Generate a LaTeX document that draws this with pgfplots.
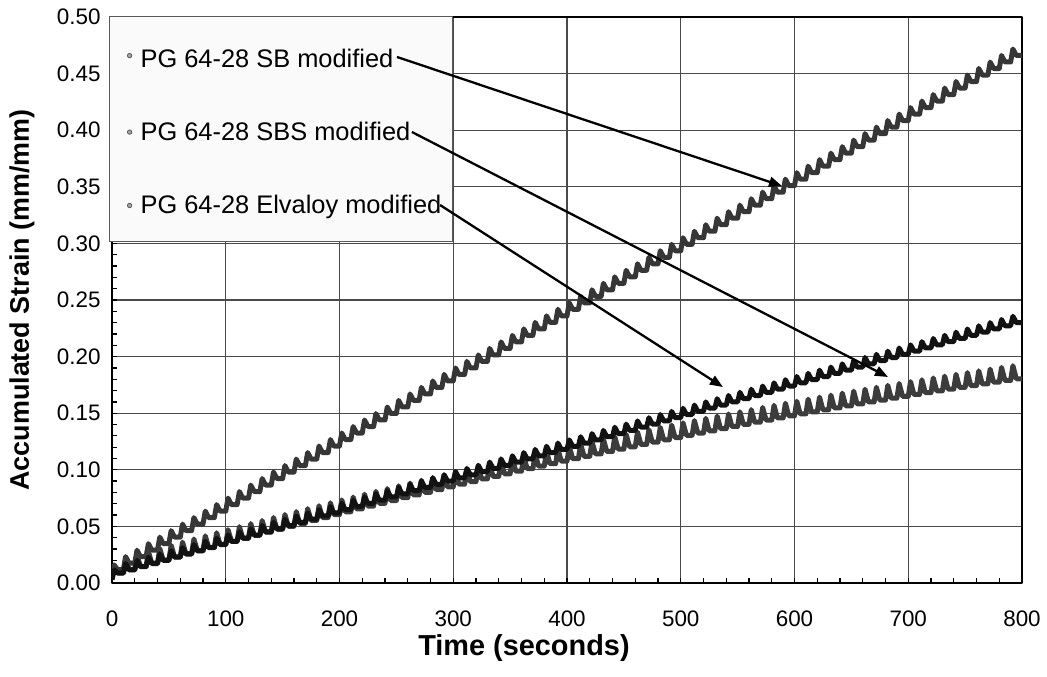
\documentclass[border=0pt]{standalone}
\usepackage{pgfplots}
\pgfplotsset{compat=1.18}
\usepackage{fontspec}
\setmainfont{Liberation Sans}
\usetikzlibrary{arrows.meta}

\definecolor{sbcol}{HTML}{363636}
\definecolor{sbscol}{HTML}{3C3C3C}
\definecolor{elvcol}{HTML}{121212}
\definecolor{gridcol}{HTML}{4A4A4A}
\definecolor{legfill}{HTML}{FAFAFA}

\begin{document}
\begin{tikzpicture}
% page frame around the axis box
\path[use as bounding box] (-112bp,-94bp) rectangle (935bp,583bp);
\begin{axis}[
  scale only axis,
  width=910bp, height=566bp,
  xmin=0, xmax=800, ymin=0, ymax=0.5,
  xtick={0,100,...,800},
  ytick={0,0.05,...,0.5},
  minor x tick num=4,
  minor y tick num=4,
  tick align=inside,
  xtick pos=bottom, ytick pos=left,
  major tick length=5bp, minor tick length=5bp,
  every tick/.style={black, line width=1.3bp},
  grid=major,
  major grid style={draw=gridcol, line width=1.3bp},
  axis line style={black, line width=2.6bp},
  /pgf/number format/assume math mode=true,
  tick label style={font=\fontsize{22.5}{27}\selectfont},
  yticklabel style={/pgf/number format/.cd, fixed, fixed zerofill, precision=2, /tikz/.cd, xshift=-8bp},
  xticklabel style={inner ysep=1bp, yshift=-26.5bp},
  xlabel={\textbf{Time (seconds)}},
  ylabel={\textbf{Accumulated Strain (mm/mm)}},
  xlabel style={font=\fontsize{29}{35}\selectfont, inner sep=1bp, at={(axis description cs:0.4527,-0.1148)}, anchor=center},
  ylabel style={font=\fontsize{27}{32}\selectfont, at={(axis description cs:-0.0989,0.5)}, anchor=center},
  legend cell align=left,
  legend image code/.code={%
    \path[draw=none, fill=none] (0bp,0bp) -- (20bp,0bp);
    \draw[black!65, line width=0.8bp, fill=black!35] (11bp,0bp) circle (2.2bp);},
  legend style={at={(axis description cs:-0.0033,1.0018)}, anchor=north west,
    draw=black!65, fill=legfill, line width=1.2bp,
    font=\fontsize{25.5}{30}\selectfont,
    inner xsep=9bp, inner ysep=24bp, row sep=49.5bp},
  line join=round,
]
% PG 64-28 SB modified
\addplot[sbcol, line width=5bp] coordinates {
(0,0.004)(2,0.0155)(5,0.01175)
(10,0.01175)(12,0.02325)(15,0.0175)
(20,0.0175)(22,0.029)(25,0.02325)
(30,0.02325)(32,0.03475)(35,0.029)
(40,0.029)(42,0.0405)(45,0.03475)
(50,0.03475)(52,0.04625)(55,0.0405)
(60,0.0405)(62,0.052)(65,0.04625)
(70,0.04625)(72,0.05775)(75,0.052)
(80,0.052)(82,0.0635)(85,0.05775)
(90,0.05775)(92,0.06925)(95,0.0635)
(100,0.0635)(102,0.075)(105,0.06925)
(110,0.06925)(112,0.08075)(115,0.075)
(120,0.075)(122,0.0865)(125,0.08075)
(130,0.08075)(132,0.09225)(135,0.0865)
(140,0.0865)(142,0.098)(145,0.09225)
(150,0.09225)(152,0.10375)(155,0.098)
(160,0.098)(162,0.1095)(165,0.10375)
(170,0.10375)(172,0.11525)(175,0.1095)
(180,0.1095)(182,0.121)(185,0.11525)
(190,0.11525)(192,0.12675)(195,0.121)
(200,0.121)(202,0.1325)(205,0.12675)
(210,0.12675)(212,0.13825)(215,0.1325)
(220,0.1325)(222,0.144)(225,0.13825)
(230,0.13825)(232,0.14975)(235,0.144)
(240,0.144)(242,0.1555)(245,0.14975)
(250,0.14975)(252,0.16125)(255,0.1555)
(260,0.1555)(262,0.167)(265,0.16125)
(270,0.16125)(272,0.17275)(275,0.167)
(280,0.167)(282,0.1785)(285,0.17275)
(290,0.17275)(292,0.18425)(295,0.1785)
(300,0.1785)(302,0.19)(305,0.18425)
(310,0.18425)(312,0.19575)(315,0.19)
(320,0.19)(322,0.2015)(325,0.19575)
(330,0.19575)(332,0.20725)(335,0.2015)
(340,0.2015)(342,0.213)(345,0.20725)
(350,0.20725)(352,0.21875)(355,0.213)
(360,0.213)(362,0.2245)(365,0.21875)
(370,0.21875)(372,0.23025)(375,0.2245)
(380,0.2245)(382,0.236)(385,0.23025)
(390,0.23025)(392,0.24175)(395,0.236)
(400,0.236)(402,0.2475)(405,0.24175)
(410,0.24175)(412,0.25325)(415,0.2475)
(420,0.2475)(422,0.259)(425,0.25325)
(430,0.25325)(432,0.26475)(435,0.259)
(440,0.259)(442,0.2705)(445,0.26475)
(450,0.26475)(452,0.27625)(455,0.2705)
(460,0.2705)(462,0.282)(465,0.27625)
(470,0.27625)(472,0.28775)(475,0.282)
(480,0.282)(482,0.2935)(485,0.28775)
(490,0.28775)(492,0.29925)(495,0.2935)
(500,0.2935)(502,0.305)(505,0.29925)
(510,0.29925)(512,0.31075)(515,0.305)
(520,0.305)(522,0.3165)(525,0.31075)
(530,0.31075)(532,0.32225)(535,0.3165)
(540,0.3165)(542,0.328)(545,0.32225)
(550,0.32225)(552,0.33375)(555,0.328)
(560,0.328)(562,0.3395)(565,0.33375)
(570,0.33375)(572,0.34525)(575,0.3395)
(580,0.3395)(582,0.351)(585,0.34525)
(590,0.34525)(592,0.35675)(595,0.351)
(600,0.351)(602,0.3625)(605,0.35675)
(610,0.35675)(612,0.36825)(615,0.3625)
(620,0.3625)(622,0.374)(625,0.36825)
(630,0.36825)(632,0.37975)(635,0.374)
(640,0.374)(642,0.3855)(645,0.37975)
(650,0.37975)(652,0.39125)(655,0.3855)
(660,0.3855)(662,0.397)(665,0.39125)
(670,0.39125)(672,0.40275)(675,0.397)
(680,0.397)(682,0.4085)(685,0.40275)
(690,0.40275)(692,0.41425)(695,0.4085)
(700,0.4085)(702,0.42)(705,0.41425)
(710,0.41425)(712,0.42575)(715,0.42)
(720,0.42)(722,0.4315)(725,0.42575)
(730,0.42575)(732,0.43725)(735,0.4315)
(740,0.4315)(742,0.443)(745,0.43725)
(750,0.43725)(752,0.44875)(755,0.443)
(760,0.443)(762,0.4545)(765,0.44875)
(770,0.44875)(772,0.46025)(775,0.4545)
(780,0.4545)(782,0.466)(785,0.46025)
(790,0.46025)(792,0.47175)(795,0.466)
(800,0.466)
};
\addlegendentry{\rule{0pt}{24.6bp}PG 64-28 SB modified}
% PG 64-28 SBS modified
\addplot[sbscol, line width=5bp] coordinates {
(0,0.003)(2,0.016)(5,0.00889)
(10,0.00889)(12,0.02189)(15,0.01176)
(20,0.01176)(22,0.02476)(25,0.01462)
(30,0.01462)(32,0.02762)(35,0.01746)
(40,0.01746)(42,0.03046)(45,0.02028)
(50,0.02028)(52,0.03328)(55,0.02308)
(60,0.02308)(62,0.03608)(65,0.02586)
(70,0.02586)(72,0.03886)(75,0.02862)
(80,0.02862)(82,0.04162)(85,0.03137)
(90,0.03137)(92,0.04437)(95,0.0341)
(100,0.0341)(102,0.0471)(105,0.03681)
(110,0.03681)(112,0.04981)(115,0.0395)
(120,0.0395)(122,0.0525)(125,0.04218)
(130,0.04218)(132,0.05518)(135,0.04484)
(140,0.04484)(142,0.05784)(145,0.04748)
(150,0.04748)(152,0.06048)(155,0.0501)
(160,0.0501)(162,0.0631)(165,0.0527)
(170,0.0527)(172,0.0657)(175,0.05528)
(180,0.05528)(182,0.06828)(185,0.05785)
(190,0.05785)(192,0.07085)(195,0.0604)
(200,0.0604)(202,0.0734)(205,0.06293)
(210,0.06293)(212,0.07593)(215,0.06544)
(220,0.06544)(222,0.07844)(225,0.06794)
(230,0.06794)(232,0.08094)(235,0.07042)
(240,0.07042)(242,0.08342)(245,0.07288)
(250,0.07288)(252,0.08588)(255,0.07532)
(260,0.07532)(262,0.08832)(265,0.07774)
(270,0.07774)(272,0.09074)(275,0.08014)
(280,0.08014)(282,0.09314)(285,0.08253)
(290,0.08253)(292,0.09553)(295,0.0849)
(300,0.0849)(302,0.0979)(305,0.08725)
(310,0.08725)(312,0.10025)(315,0.08958)
(320,0.08958)(322,0.10258)(325,0.0919)
(330,0.0919)(332,0.1049)(335,0.0942)
(340,0.0942)(342,0.1072)(345,0.09648)
(350,0.09648)(352,0.10948)(355,0.09874)
(360,0.09874)(362,0.11174)(365,0.10098)
(370,0.10098)(372,0.11398)(375,0.1032)
(380,0.1032)(382,0.1162)(385,0.10541)
(390,0.10541)(392,0.11841)(395,0.1076)
(400,0.1076)(402,0.1206)(405,0.10977)
(410,0.10977)(412,0.12277)(415,0.11192)
(420,0.11192)(422,0.12492)(425,0.11406)
(430,0.11406)(432,0.12706)(435,0.11618)
(440,0.11618)(442,0.12918)(445,0.11828)
(450,0.11828)(452,0.13128)(455,0.12036)
(460,0.12036)(462,0.13336)(465,0.12242)
(470,0.12242)(472,0.13542)(475,0.12446)
(480,0.12446)(482,0.13746)(485,0.12649)
(490,0.12649)(492,0.13949)(495,0.1285)
(500,0.1285)(502,0.1415)(505,0.13049)
(510,0.13049)(512,0.14349)(515,0.13246)
(520,0.13246)(522,0.14546)(525,0.13442)
(530,0.13442)(532,0.14742)(535,0.13636)
(540,0.13636)(542,0.14936)(545,0.13828)
(550,0.13828)(552,0.15128)(555,0.14018)
(560,0.14018)(562,0.15318)(565,0.14206)
(570,0.14206)(572,0.15506)(575,0.14392)
(580,0.14392)(582,0.15692)(585,0.14577)
(590,0.14577)(592,0.15877)(595,0.1476)
(600,0.1476)(602,0.1606)(605,0.14941)
(610,0.14941)(612,0.16241)(615,0.1512)
(620,0.1512)(622,0.1642)(625,0.15298)
(630,0.15298)(632,0.16598)(635,0.15474)
(640,0.15474)(642,0.16774)(645,0.15648)
(650,0.15648)(652,0.16948)(655,0.1582)
(660,0.1582)(662,0.1712)(665,0.1599)
(670,0.1599)(672,0.1729)(675,0.16158)
(680,0.16158)(682,0.17458)(685,0.16325)
(690,0.16325)(692,0.17625)(695,0.1649)
(700,0.1649)(702,0.1779)(705,0.16653)
(710,0.16653)(712,0.17953)(715,0.16814)
(720,0.16814)(722,0.18114)(725,0.16974)
(730,0.16974)(732,0.18274)(735,0.17132)
(740,0.17132)(742,0.18432)(745,0.17288)
(750,0.17288)(752,0.18588)(755,0.17442)
(760,0.17442)(762,0.18742)(765,0.17594)
(770,0.17594)(772,0.18894)(775,0.17744)
(780,0.17744)(782,0.19044)(785,0.17893)
(790,0.17893)(792,0.19193)(795,0.1804)
(800,0.1804)
};
\addlegendentry{PG 64-28 SBS modified}
% PG 64-28 Elvaloy modified
\addplot[elvcol, line width=5bp] coordinates {
(0,0.003)(2,0.0116)(5,0.0088)
(10,0.0088)(12,0.0172)(15,0.0116)
(20,0.0116)(22,0.02)(25,0.0144)
(30,0.0144)(32,0.0228)(35,0.0172)
(40,0.0172)(42,0.0256)(45,0.02)
(50,0.02)(52,0.0284)(55,0.0228)
(60,0.0228)(62,0.0312)(65,0.0256)
(70,0.0256)(72,0.034)(75,0.0284)
(80,0.0284)(82,0.0368)(85,0.0312)
(90,0.0312)(92,0.0396)(95,0.034)
(100,0.034)(102,0.0424)(105,0.0368)
(110,0.0368)(112,0.0452)(115,0.0396)
(120,0.0396)(122,0.048)(125,0.0424)
(130,0.0424)(132,0.0508)(135,0.0452)
(140,0.0452)(142,0.0536)(145,0.048)
(150,0.048)(152,0.0564)(155,0.0508)
(160,0.0508)(162,0.0592)(165,0.0536)
(170,0.0536)(172,0.062)(175,0.0564)
(180,0.0564)(182,0.0648)(185,0.0592)
(190,0.0592)(192,0.0676)(195,0.062)
(200,0.062)(202,0.0704)(205,0.0648)
(210,0.0648)(212,0.0732)(215,0.0676)
(220,0.0676)(222,0.076)(225,0.0704)
(230,0.0704)(232,0.0788)(235,0.0732)
(240,0.0732)(242,0.0816)(245,0.076)
(250,0.076)(252,0.0844)(255,0.0788)
(260,0.0788)(262,0.0872)(265,0.0816)
(270,0.0816)(272,0.09)(275,0.0844)
(280,0.0844)(282,0.0928)(285,0.0872)
(290,0.0872)(292,0.0956)(295,0.09)
(300,0.09)(302,0.0984)(305,0.0928)
(310,0.0928)(312,0.1012)(315,0.0956)
(320,0.0956)(322,0.104)(325,0.0984)
(330,0.0984)(332,0.1068)(335,0.1012)
(340,0.1012)(342,0.1096)(345,0.104)
(350,0.104)(352,0.1124)(355,0.1068)
(360,0.1068)(362,0.1152)(365,0.1096)
(370,0.1096)(372,0.118)(375,0.1124)
(380,0.1124)(382,0.1208)(385,0.1152)
(390,0.1152)(392,0.1236)(395,0.118)
(400,0.118)(402,0.1264)(405,0.1208)
(410,0.1208)(412,0.1292)(415,0.1236)
(420,0.1236)(422,0.132)(425,0.1264)
(430,0.1264)(432,0.1348)(435,0.1292)
(440,0.1292)(442,0.1376)(445,0.132)
(450,0.132)(452,0.1404)(455,0.1348)
(460,0.1348)(462,0.1432)(465,0.1376)
(470,0.1376)(472,0.146)(475,0.1404)
(480,0.1404)(482,0.1488)(485,0.1432)
(490,0.1432)(492,0.1516)(495,0.146)
(500,0.146)(502,0.1544)(505,0.1488)
(510,0.1488)(512,0.1572)(515,0.1516)
(520,0.1516)(522,0.16)(525,0.1544)
(530,0.1544)(532,0.1628)(535,0.1572)
(540,0.1572)(542,0.1656)(545,0.16)
(550,0.16)(552,0.1684)(555,0.1628)
(560,0.1628)(562,0.1712)(565,0.1656)
(570,0.1656)(572,0.174)(575,0.1684)
(580,0.1684)(582,0.1768)(585,0.1712)
(590,0.1712)(592,0.1796)(595,0.174)
(600,0.174)(602,0.1824)(605,0.1768)
(610,0.1768)(612,0.1852)(615,0.1796)
(620,0.1796)(622,0.188)(625,0.1824)
(630,0.1824)(632,0.1908)(635,0.1852)
(640,0.1852)(642,0.1936)(645,0.188)
(650,0.188)(652,0.1964)(655,0.1908)
(660,0.1908)(662,0.1992)(665,0.1936)
(670,0.1936)(672,0.202)(675,0.1964)
(680,0.1964)(682,0.2048)(685,0.1992)
(690,0.1992)(692,0.2076)(695,0.202)
(700,0.202)(702,0.2104)(705,0.2048)
(710,0.2048)(712,0.2132)(715,0.2076)
(720,0.2076)(722,0.216)(725,0.2104)
(730,0.2104)(732,0.2188)(735,0.2132)
(740,0.2132)(742,0.2216)(745,0.216)
(750,0.216)(752,0.2244)(755,0.2188)
(760,0.2188)(762,0.2272)(765,0.2216)
(770,0.2216)(772,0.23)(775,0.2244)
(780,0.2244)(782,0.2328)(785,0.2272)
(790,0.2272)(792,0.2356)(795,0.23)
(800,0.23)
};
\addlegendentry{PG 64-28 Elvaloy modified}
% leader line end points
\coordinate (sbA) at (axis cs:250.5,0.4647);
\coordinate (sbB) at (axis cs:589,0.3507);
\coordinate (sbsA) at (axis cs:263.7,0.3984);
\coordinate (sbsB) at (axis cs:682.2,0.182);
\coordinate (elvA) at (axis cs:288.4,0.3339);
\coordinate (elvB) at (axis cs:537.1,0.1731);
\end{axis}
% leader lines from the legend entries to their curves
\begin{scope}[black, line width=2.3bp, -{Triangle[length=13bp,width=10bp]}]
\draw (sbA) -- (sbB);
\draw (sbsA) -- (sbsB);
\draw (elvA) -- (elvB);
\end{scope}
\end{tikzpicture}
\end{document}
